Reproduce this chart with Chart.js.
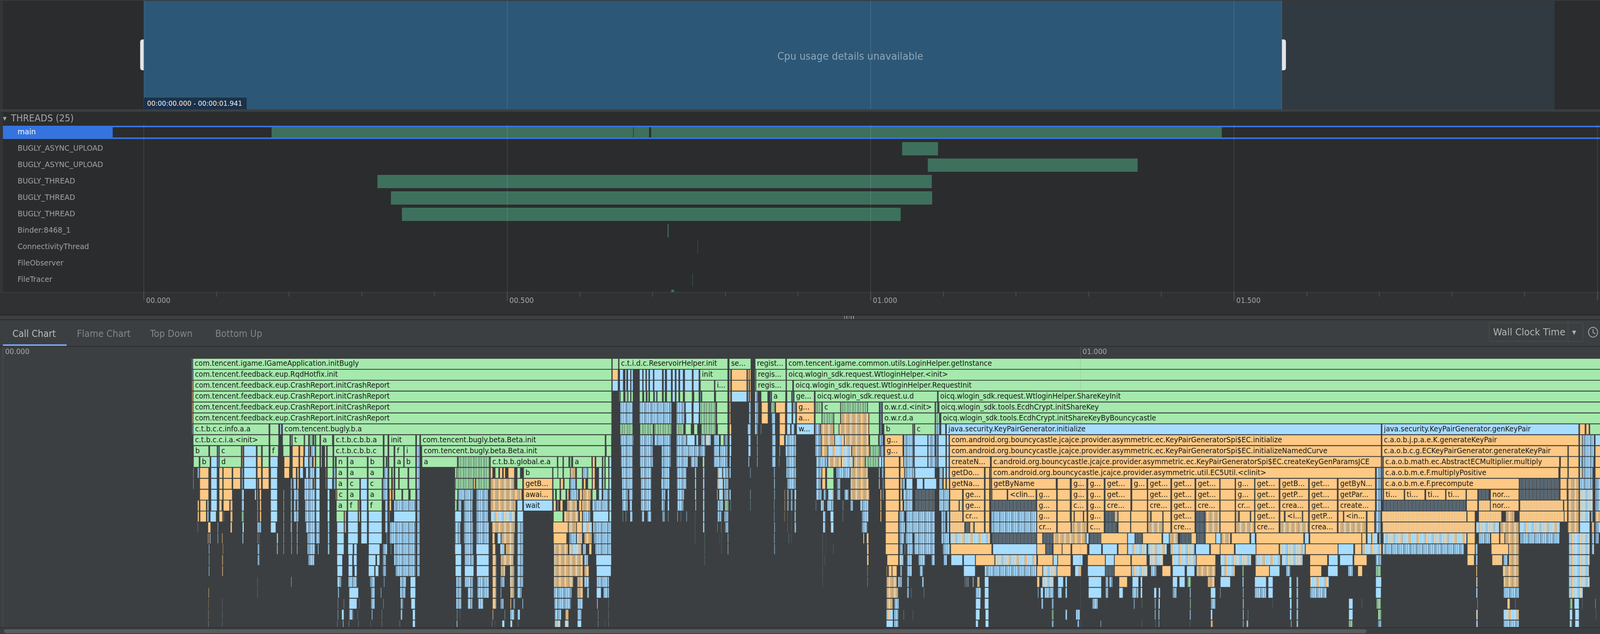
<!DOCTYPE html>
<html>
<head>
<meta charset="utf-8">
<script src="https://cdn.jsdelivr.net/npm/chart.js@4"></script>
<style>
html, body { margin: 0; padding: 0; background: #2b2c2e; overflow: hidden; }
#page { position: absolute; left: 0; top: 0; width: 4372px; height: 1624px; overflow: hidden; transform-origin: 0 0; font-family: "DejaVu Sans", sans-serif; }
.box, .txt, canvas { position: absolute; }
.txt { white-space: nowrap; line-height: 1; }
canvas { z-index: 2; }
.top { z-index: 3; }
</style>
</head>
<body>
<div id="page">
<!-- panels behind the charts -->
<div class="box" style="left:0;top:0;width:8px;height:806px;background:#333537"></div>
<div class="box" style="left:0;top:0;width:4372px;height:2px;background:#37393b"></div>
<div class="box" style="left:0;top:280px;width:4372px;height:6px;background:#3c3f41"></div>
<div class="box" style="left:8px;top:322px;width:4364px;height:34px;background:#3574de"></div>
<div class="box" style="left:308px;top:326px;width:4064px;height:26px;background:#2b2c2e"></div>
<div class="box" style="left:0;top:748px;width:4372px;height:58px;background:#303133"></div>
<div class="box" style="left:0;top:748px;width:4372px;height:2px;background:#3c3f41"></div>
<div class="box" style="left:0;top:806px;width:4372px;height:2px;background:#232425"></div>
<div class="box" style="left:0;top:808px;width:4372px;height:10px;background:#3c3f41"></div>
<div class="box" style="left:0;top:818px;width:4372px;height:2px;background:#28292a"></div>
<div class="box" style="left:0;top:820px;width:4372px;height:804px;background:#3c3f41"></div>
<div class="box" style="left:0;top:886px;width:4372px;height:2px;background:#2b2c2d"></div>
<div class="box" style="left:8px;top:882px;width:174px;height:4px;background:#7ba6f2"></div>

<div class="txt" style="left:8px;top:297px;font-size:13px;color:#a8a8a8">&#9660;</div>
<div class="txt" style="left:30px;top:291px;font-size:24px;color:#a8a8a8">THREADS (25)</div>
<div class="txt" style="left:34px;top:843px;font-size:24px;color:#bcbcbc">Call Chart</div>
<div class="txt" style="left:210px;top:843px;font-size:24px;color:#858585">Flame Chart</div>
<div class="txt" style="left:410px;top:843px;font-size:24px;color:#858585">Top Down</div>
<div class="txt" style="left:588px;top:843px;font-size:24px;color:#858585">Bottom Up</div>

<div class="box" style="left:4069px;top:826px;width:255px;height:47px;border:1px solid #555759;border-radius:4px"></div>
<div class="box" style="left:4284px;top:827px;width:1px;height:46px;background:#555759"></div>
<div class="txt" style="left:4080px;top:838px;font-size:25px;color:#b4b4b4">Wall Clock Time</div>
<div class="txt" style="left:4296px;top:844px;font-size:14px;color:#b4b4b4">&#9660;</div>
<svg class="box" style="left:4338px;top:836px" width="30" height="30" viewBox="0 0 30 30"><circle cx="15" cy="15" r="12.5" fill="none" stroke="#aeb0b2" stroke-width="2"/><path d="M15 7v9l6 3" fill="none" stroke="#aeb0b2" stroke-width="2"/></svg>
<div class="box" style="left:2307px;top:809px;width:28px;height:8px;background:repeating-linear-gradient(90deg,#9a9c9e 0 2px,transparent 2px 6px)"></div>

<canvas id="overviewChart" width="4372" height="278" style="left:0;top:2px;width:4372px;height:278px"></canvas>
<canvas id="threadChart" width="4372" height="488" style="left:0;top:318px;width:4372px;height:488px"></canvas>
<canvas id="callChart" width="4372" height="718" style="left:0;top:888px;width:4372px;height:718px"></canvas>

<!-- things above the charts -->
<div class="txt top" style="left:2124px;top:131px;font-size:26.5px;color:#8ea6b8">Cpu usage details unavailable</div>
<div class="box top" style="left:383px;top:101px;width:10px;height:79px;background:#e4e4e6;border-radius:6px 0 0 6px"></div>
<div class="box top" style="left:3503px;top:101px;width:11px;height:79px;background:#e4e4e6;border-radius:0 6px 6px 0"></div>
<div class="box top" style="left:393px;top:250px;width:281px;height:30px;background:#1b3149"></div>
<div class="txt top" style="left:402px;top:256px;font-size:18px;color:#ececec">00:00:00.000 - 00:00:01.941</div>
<div class="box top" style="left:0;top:1606px;width:4372px;height:18px;background:#3c3f41"></div>
<div class="box top" style="left:0;top:1607px;width:4372px;height:2px;background:#2e3031"></div>
<div class="box top" style="left:11px;top:1612px;width:3723px;height:10px;background:#5a5c5e;border-radius:5px"></div>
</div>

<script>
// the window can come up narrower than the picture, keep everything in it
var page = document.getElementById('page');
page.style.transform = 'scale(' + (window.innerWidth / 4372) + ',' + (window.innerHeight / 1624) + ')';

// capture range and selection, ms
var captureRange = [0, 1941];
var selectionRange = [0, 1566];

// threads list
var threadNames = ['main', 'BUGLY_ASYNC_UPLOAD', 'BUGLY_ASYNC_UPLOAD', 'BUGLY_THREAD', 'BUGLY_THREAD', 'BUGLY_THREAD', 'Binder:8468_1', 'ConnectivityThread', 'FileObserver', 'FileTracer'];
var mainStarts = [175.7, 673.9, 697.9];
var mainEnds = [673.2, 695.2, 1483.1];
var threadRows = [1, 2, 3, 4, 5, 6, 7, 9, 10];
var threadStarts = [1043.3, 1078.6, 321.3, 339.9, 355, 720.5, 761.8, 754.8, 725.6];
var threadEnds = [1092.7, 1367.3, 1084.1, 1084.6, 1041.3, 722, 762.3, 755.3, 729.6];

// axis ticks, ms
var minorTickValues = [0, 100, 200, 300, 400, 500, 600, 700, 800, 900, 1000, 1100, 1200, 1300, 1400, 1500, 1600, 1700, 1800, 1900, 2000];
var majorTickValues = [0, 500, 1000, 1500, 2000];
var timeTickLabels = ['00.000', '00.500', '01.000', '01.500', ''];
var callTickValues = [0, 1000];
var callTickLabels = ['00.000', '01.000'];

// call chart rows: [start ms, end ms, kind, label]
var row0 = [[175,175.8,'h'],[175.8,564.8,'g','com.tencent.igame.IGameApplication.initBugly'],[565.2,571.1,'g'],[571.5,672.5,'g','c.t.i.d.c.ReservoirHelper.init'],[673.6,694,'g','se...'],[697.7,726.2,'g','regist...'],[726.9,1482.3,'g','com.tencent.igame.common.utils.LoginHelper.getInstance']];
var row1 = [[175,176,'h'],[176,564.8,'g','com.tencent.feedback.eup.RqdHotfix.init'],[565.2,570.8,'o'],[572,575.6,'b'],[577,578.7,'b'],[579.5,582.3,'b'],[582.6,584.7,'b'],[590.3,593.4,'b'],[593.9,596.4,'b'],[597,599.2,'b'],[599.8,603.4,'b'],[603.9,611.7,'b'],[612.6,614.5,'b'],[615.6,620.1,'b'],[620.9,623.7,'b'],[624.4,627,'b'],[627.8,631.2,'b'],[632.3,639.5,'b'],[640.3,645.8,'b'],[646.5,672.5,'g','init'],[673.6,675.2,'g'],[675.8,690.2,'o'],[690.7,692.3,'o'],[692.3,694,'o'],[697.7,698.5,'g'],[698.5,726.5,'g','regis...'],[726.9,1482.3,'g','oicq.wlogin_sdk.request.WtloginHelper.<init>']];
var row2 = [[175,176.1,'o'],[176.1,564.8,'g','com.tencent.feedback.eup.CrashReport.initCrashReport'],[565.2,570.8,'b'],[572,575.6,'b'],[577,578.7,'b'],[579.5,582.3,'b'],[582.6,584.7,'b'],[590.3,593.4,'b'],[593.9,596.4,'b'],[597,599.2,'b'],[599.8,603.4,'b'],[603.9,611.7,'b'],[612.6,614.5,'b'],[615.6,620.1,'b'],[620.9,623.7,'b'],[624.4,627,'b'],[627.8,631.2,'b'],[632.3,639.5,'b'],[640.3,645.8,'b'],[646.9,660,'g'],[660.5,672.5,'g','i...'],[673.6,675.2,'o'],[675.8,690.2,'o'],[690.7,692.3,'r'],[692.6,694,'o'],[697.7,698.5,'g'],[698.5,726.5,'g','regis...'],[726.9,732.7,'g'],[733.4,1482.3,'g','oicq.wlogin_sdk.request.WtloginHelper.RequestInit']];
var row3 = [[175,176.1,'o'],[176.1,564.8,'g','com.tencent.feedback.eup.CrashReport.initCrashReport'],[571.5,572.6,'h'],[572.6,575.9,'g'],[577,579.5,'n'],[579.8,582.3,'g'],[582.6,584.7,'g'],[590.3,593.4,'g'],[594.4,596.7,'g'],[597.5,599.2,'g'],[599.8,603.6,'g'],[604.2,606.4,'h'],[606.8,611.7,'g'],[612.6,614.5,'g'],[615.6,620.1,'g'],[620.9,623.7,'b'],[624.4,627,'g'],[627.8,631.2,'g'],[632.3,639.5,'g'],[640.9,645.8,'g'],[646.8,647.9,'h'],[648.3,660,'g'],[661.1,672.5,'g'],[673.6,675.2,'o'],[675.8,690.2,'b'],[690.7,692.3,'h'],[692.6,694,'o'],[697.4,700.5,'h'],[703.2,709.6,'g'],[712,712.7,'b'],[713,726.2,'g','a'],[727.2,731.8,'g'],[732.7,733.4,'h'],[733.9,752.8,'g','ge...'],[753.5,867.1,'g','oicq.wlogin_sdk.request.u.d'],[867.7,1482.3,'g','oicq.wlogin_sdk.request.WtloginHelper.ShareKeyInit']];
var row4 = [[175,176.1,'o'],[176.1,564.8,'g','com.tencent.feedback.eup.CrashReport.initCrashReport'],[572.3,584.7,'h'],[590.3,620.5,'h'],[624.6,632.5,'h'],[633,639.2,'b'],[640.3,646.1,'b'],[646.4,661.4,'n'],[662.1,672.5,'g'],[673.8,675.2,'o'],[691.9,694.1,'h'],[697.4,700.9,'h'],[703.6,709.9,'o'],[712.4,716.1,'n'],[716.8,726,'o'],[727.2,732,'b'],[732.7,735.5,'h'],[736.2,752.8,'o','g...'],[753.5,759.8,'n'],[760.2,777.1,'g','c'],[777.1,802.1,'n'],[802.1,813.1,'g'],[813.8,815.2,'h'],[815.9,864.9,'g','o.w.r.d.<init>'],[865.2,867.7,'n'],[868.4,1482.3,'g','oicq.wlogin_sdk.tools.EcdhCrypt.initShareKey']];
var row5 = [[175,176.1,'o'],[176.1,564.8,'g','com.tencent.feedback.eup.CrashReport.initCrashReport'],[572.3,584.7,'h'],[590.3,620.5,'h'],[624.6,632.5,'h'],[633.4,639.2,'b'],[640.3,645.8,'b'],[646.4,661.4,'n'],[662.1,672.5,'g'],[673.8,675.2,'o'],[691.9,694.1,'h'],[697.4,700.9,'h'],[703.6,709.9,'o'],[713,716.8,'h'],[720.3,726,'o'],[727.2,732,'b'],[732.7,735.5,'b'],[736.2,752.8,'o','a...'],[753.5,759.8,'g'],[759.8,770.9,'n'],[770.9,777.1,'g'],[777.1,803.4,'r'],[803.4,813.1,'g'],[813.8,815.2,'h'],[815.9,864.9,'g','o.w.r.d.a'],[865.2,869.1,'n'],[870.2,1482.3,'g','oicq.wlogin_sdk.tools.EcdhCrypt.initShareKeyByBouncycastle']];
var row6 = [[175,176.1,'h'],[176.1,246.7,'g','c.t.b.c.c.info.a.a'],[247.4,255.7,'g'],[256.6,258.4,'h'],[259.1,564.8,'g','com.tencent.bugly.b.a'],[572.3,584.7,'n'],[590.6,603.4,'n'],[604.1,620.5,'n'],[624.6,631.6,'n'],[633,638.5,'g'],[640.9,644.5,'g'],[647.5,661.4,'n'],[662.8,672.5,'g'],[673.8,675.9,'o'],[690.5,694.1,'h'],[697.4,700.5,'h'],[703.2,703.8,'h'],[713.3,716.8,'h'],[720.3,726,'o'],[727.2,730.7,'b'],[731,734.8,'h'],[736.2,752.8,'b','w...'],[753.5,758.4,'h'],[758.4,770.9,'r'],[770.9,775.7,'g'],[775.7,803.4,'r'],[803.4,813.1,'g'],[813.8,815.2,'h'],[817.3,844.1,'g','b'],[844.5,845.5,'h'],[845.9,864.9,'g','c'],[865.2,869.3,'h'],[870.2,874.6,'b'],[875.3,1279,'b','java.security.KeyPairGenerator.initialize'],[1279.5,1462.4,'b','java.security.KeyPairGenerator.genKeyPair'],[1463,1468.2,'o'],[1468.9,1471.9,'o'],[1472.4,1482.3,'g']];
var row7 = [[176.1,246.7,'g','c.t.b.c.c.i.a.<init>'],[247.4,255.7,'g'],[259.1,266.1,'g'],[266.8,267.9,'g'],[268.2,279.2,'g','t'],[279.7,283.4,'g'],[283.8,287.6,'n'],[288.2,289.6,'g'],[290,293.9,'g'],[294.5,305.6,'g','a'],[306.7,352.7,'g','c.t.b.c.b.b.a'],[353.4,357.1,'g'],[357.8,382.8,'g','init'],[383.5,386.7,'g'],[387.3,558.7,'g','com.tencent.bugly.beta.Beta.init'],[559.3,564.6,'g'],[572.6,585.1,'h'],[590.6,603.4,'h'],[604.1,619.8,'h'],[624.6,634.3,'h'],[634.3,642,'b'],[642.7,645.4,'h'],[647.5,651.7,'h'],[651.7,656.9,'m'],[659.3,664.8,'h'],[665.5,669,'g'],[669.3,672.5,'h'],[673.8,675.9,'b'],[691.2,694.1,'h'],[699.5,700.5,'b'],[713.3,717.1,'h'],[720.3,725.1,'o'],[725.8,736.2,'h'],[753.5,759.1,'h'],[759.1,771.6,'r'],[771.6,780.6,'m'],[780.6,803.4,'r'],[804.1,812.4,'g'],[813.1,816.6,'h'],[818,835.1,'o','g...'],[835.8,844.8,'h'],[845.5,858,'b'],[858,864.9,'h'],[865.6,867.7,'h'],[867.7,874.9,'b'],[875.4,877.8,'b'],[878.2,1279,'o','com.android.org.bouncycastle.jcajce.provider.asymmetric.ec.KeyPairGeneratorSpi$EC.initialize'],[1279.5,1462.4,'o','c.a.o.b.j.p.a.e.K.generateKeyPair'],[1463,1465.6,'r'],[1465.6,1476.9,'h'],[1477.4,1482.3,'b']];
var row8 = [[176.4,190.8,'g','b'],[191.5,198.6,'g'],[199.3,200.2,'h'],[200.5,221,'g','c'],[221.7,222.7,'o'],[223.2,234.9,'b'],[235.6,239.7,'g'],[240.4,246.7,'g'],[247.6,255.4,'g','f'],[259.6,266.1,'g'],[268.2,274.4,'o'],[275.1,279,'o'],[279.7,283.4,'b'],[283.8,284.8,'o'],[285.5,289.6,'h'],[290,293.9,'g'],[294.5,295.9,'g'],[298.2,300,'g'],[300.7,306,'g'],[306.7,352.7,'g','c.t.b.c.b.b.c'],[353.4,357.1,'g'],[357.8,362.7,'g'],[363.4,371.7,'g','f'],[372.1,382.8,'g','i'],[383.5,386.7,'h'],[388.3,558.7,'g','com.tencent.bugly.beta.Beta.init'],[559.6,564.6,'g'],[573.1,584.7,'h'],[590.6,603.1,'h'],[610.8,619.8,'h'],[624.6,646.1,'h'],[646.1,651.7,'h'],[659.3,664.8,'h'],[664.8,672.5,'h'],[673.8,675.9,'b'],[691.2,694,'h'],[699.5,700.5,'b'],[713.3,717.1,'h'],[720.3,721.2,'o'],[725.8,736.2,'h'],[753.5,759.1,'h'],[759.1,765.3,'r'],[765.3,787.5,'m'],[787.5,804.1,'r'],[804.1,813.8,'n'],[813.8,817.3,'h'],[818,835.1,'o','g...'],[835.8,844.8,'h'],[845.5,858,'b'],[858,864.9,'h'],[865.6,867.7,'h'],[867.7,874.9,'b'],[875.4,877.8,'b'],[878.2,1279,'o','com.android.org.bouncycastle.jcajce.provider.asymmetric.ec.KeyPairGeneratorSpi$EC.initializeNamedCurve'],[1279.5,1452.1,'o','c.a.o.b.c.g.ECKeyPairGenerator.generateKeyPair'],[1452.6,1462.4,'o'],[1463,1465.6,'r'],[1465.6,1476.9,'h'],[1477.4,1482.3,'o']];
var row9 = [[176.4,181.9,'g'],[182.5,191.9,'g','b'],[192.6,198.6,'b'],[199.3,200.2,'h'],[200.5,221,'g','d'],[221.7,222.7,'o'],[223.2,234.9,'b'],[235.6,239.7,'o'],[240.4,246.7,'g'],[247.6,255,'b'],[260.5,266.1,'o'],[268.2,274.4,'o'],[275.1,278.5,'o'],[279.2,283.4,'b'],[283.8,286.9,'h'],[287.6,289.6,'o'],[290,293.9,'g'],[294.5,295.9,'g'],[298.2,300,'g'],[300.7,306,'g'],[306.7,308.3,'g'],[309,319.2,'g','n'],[319.7,337.9,'g','a'],[338.6,352.7,'g','b'],[353.4,355.5,'g'],[356.2,357.1,'b'],[357.8,362.7,'g'],[363.4,371.7,'g','a'],[372.1,382.8,'g','b'],[383.5,386.7,'h'],[388.5,421.5,'g','a'],[421.8,451.6,'n'],[452,514.2,'g','c.t.b.b.global.e.a'],[514.7,519.5,'g'],[519.9,525,'g'],[525.5,527.8,'n'],[528.5,546.3,'g','a'],[546.8,549.3,'o'],[550,556,'g'],[556.5,558.3,'g'],[558.7,561.8,'g'],[562.2,564.6,'b'],[573.1,584.7,'h'],[590.6,603.4,'h'],[610.8,619.8,'h'],[624.6,635.7,'h'],[638.1,644.7,'h'],[648.9,651,'g'],[659.3,672.5,'h'],[673.8,675.5,'b'],[691.2,692.6,'h'],[699.5,700.5,'b'],[713.3,717.1,'h'],[720,720.6,'g'],[726.5,735.9,'h'],[754.2,765.3,'h'],[765.3,777.8,'r'],[777.8,788.9,'m'],[788.9,800,'r'],[800,812.4,'n'],[812.4,815.2,'b'],[815.2,817.3,'b'],[817.7,831.6,'o'],[832.3,835.8,'o'],[835.8,844.8,'h'],[845.5,858,'b'],[858,865.6,'h'],[865.6,867.7,'h'],[867.7,874.9,'b'],[875.4,877.8,'b'],[878.2,916.2,'o','createN...'],[917,1279,'o','c.android.org.bouncycastle.jcajce.provider.asymmetric.ec.KeyPairGeneratorSpi$EC.createKeyGenParamsJCE'],[1279.5,1280.4,'o'],[1280.8,1444.5,'o','c.a.o.b.math.ec.AbstractECMultiplier.multiply'],[1445.2,1452.1,'o'],[1452.6,1462.4,'o'],[1463,1465.6,'h'],[1465.6,1476.2,'h'],[1477.4,1482.3,'o']];
var row10 = [[176.4,177,'h'],[180,182,'h'],[182.2,190.8,'o'],[192.6,198.6,'b'],[200.2,203.7,'o'],[204.1,212.4,'o'],[213,220.3,'o'],[221,222.7,'h'],[223.2,234.9,'b'],[235.6,239.7,'o'],[240.4,246.7,'o'],[248,254.6,'b'],[260.5,265.7,'o'],[268.2,272,'o'],[272.6,274.4,'o'],[275.1,278.5,'b'],[280.6,283.4,'b'],[284.1,289,'h'],[290,293.9,'b'],[299.3,300,'o'],[300.7,306,'g'],[306.3,308.7,'h'],[309,319.2,'g','a'],[319.7,337.9,'g','a'],[338.6,352.7,'g','a'],[353.4,357.3,'h'],[357.8,360.4,'g'],[361,362.7,'g'],[363.4,367,'g'],[367.5,375.6,'g'],[376.3,382.8,'g'],[383.5,386.7,'h'],[419,421.1,'g'],[421.1,451.6,'n'],[452,454.4,'o'],[456.4,459.9,'g'],[460.6,463.4,'o'],[464.1,466.1,'o'],[468.5,474.5,'o'],[476.8,480,'g'],[482.8,509.8,'g','b'],[510.2,514.7,'g'],[514.7,519.5,'g'],[519.9,526.4,'g'],[526.4,531.3,'r'],[532,537.5,'g'],[537.5,542.4,'h'],[542.4,546.5,'g'],[546.8,549.3,'o'],[552.5,555.8,'b'],[556.5,558.3,'g'],[558.7,562,'g'],[562.2,564.6,'b'],[573.6,584.7,'h'],[591.2,602,'h'],[610.8,618.7,'h'],[625,634.3,'h'],[641.3,643.4,'h'],[649.2,651,'b'],[662.8,667.6,'m'],[667.6,673.2,'h'],[673.6,675.5,'h'],[693.2,693.9,'h'],[715.1,716.3,'h'],[726.5,736.2,'h'],[754.2,759.8,'h'],[759.8,763.2,'o'],[764.2,770.9,'g'],[772.9,786,'h'],[786.1,802.7,'r'],[812.4,813.8,'g'],[815.2,817.3,'h'],[818,831.6,'o'],[832.3,836.5,'o'],[836.5,846,'h'],[846,864.9,'b'],[868.7,872,'h'],[872.5,874.9,'b'],[875.4,877.8,'b'],[878.2,910.6,'o','getDo...'],[911.3,915.5,'o'],[916.2,917,'o'],[917,1273.6,'o','com.android.org.bouncycastle.jcajce.provider.asymmetric.util.EC5Util.<clinit>'],[1274.3,1279,'h'],[1279.5,1280.4,'b'],[1280.8,1443.8,'o','c.a.o.b.m.e.F.multiplyPositive'],[1444.9,1452.1,'o'],[1452.6,1462.4,'o'],[1463,1465.6,'r'],[1465.6,1475.5,'h'],[1477.4,1482.3,'o']];
var row11 = [[176.4,177,'h'],[182.2,190.8,'o'],[192.6,198.6,'b'],[200.2,203.7,'o'],[204.1,212.4,'o'],[213,220.3,'o'],[221,222.7,'h'],[223.2,234.9,'b'],[235.6,236.6,'o'],[237.1,239.7,'o'],[240.4,246.7,'o'],[248,254.6,'b'],[266.5,268.2,'h'],[268.8,272,'h'],[272.6,274.4,'o'],[279.2,287.6,'h'],[288.2,289.3,'o'],[290,293.9,'b'],[299.3,300,'o'],[300.7,305.6,'b'],[306.3,308.7,'h'],[309,319.2,'g','a'],[319.7,330.9,'g','c'],[331.5,337.9,'b'],[338.6,351.6,'g','c'],[352,357.1,'h'],[357.8,360.4,'g'],[361.3,362.7,'o'],[363.4,367,'g'],[367.5,375.6,'g'],[376.3,382.8,'g'],[383.5,386.7,'h'],[419,436.3,'n'],[436.3,438.1,'o'],[438.1,451.6,'n'],[452,474.5,'r'],[476.8,482.1,'g'],[482.8,509.8,'o','getB...'],[510.2,516.7,'g'],[517.1,519.9,'o'],[520.5,525.7,'g'],[525.7,531.3,'h'],[532,537.5,'g'],[538.5,540.7,'o'],[542.4,546.5,'g'],[546.8,549.3,'o'],[552.5,555.8,'b'],[556.5,558.3,'g'],[558.7,562,'g'],[562.2,564.6,'b'],[574,584.7,'h'],[591.6,601.7,'h'],[610.4,618.7,'h'],[625,634.3,'h'],[641.3,643.4,'h'],[649.2,651,'b'],[662.5,668.3,'m'],[668.6,673.2,'h'],[715.1,716.5,'h'],[727.2,735.9,'h'],[754.2,759.1,'h'],[759.8,763.2,'o'],[764.2,770.9,'g'],[773.6,777.1,'h'],[786.1,803.4,'r'],[812.4,813.8,'g'],[815.9,817.3,'h'],[818,831.6,'o'],[832.3,834.4,'o'],[834.4,837,'h'],[837.9,844.1,'b'],[847.6,853.8,'b'],[854.5,866.3,'b'],[868.6,871.8,'h'],[872.5,874.9,'o'],[875.4,878.1,'o'],[878.5,910.6,'o','getNa...'],[911.3,915.5,'o'],[916.2,917,'o'],[917.3,977.2,'o','getByName'],[978.3,990.3,'o'],[991.3,1005.6,'o','g...'],[1006.6,1021.8,'o','g...'],[1022.6,1046.5,'o','get...'],[1047.4,1061.5,'o','g...'],[1062.2,1083.7,'o','get...'],[1084.4,1106.1,'o','get...'],[1106.8,1129,'o','get...'],[1129.4,1143.3,'o'],[1143.7,1161.3,'o','g...'],[1161.7,1184.2,'o','get...'],[1184.9,1211.5,'o','getB...'],[1212.2,1238.2,'o','get...'],[1238.9,1273.6,'o','getByN...'],[1274.3,1279,'h'],[1279.5,1280.4,'o'],[1280.8,1407,'o','c.a.o.b.m.e.F.precompute'],[1407,1444.5,'d'],[1444.9,1451.5,'o'],[1451.9,1462.8,'r'],[1463,1475.5,'h'],[1477.4,1482.3,'h']];
var row12 = [[182.2,190.8,'o'],[192.6,198.6,'b'],[200.2,203.7,'o'],[204.1,212.7,'o'],[221,223.5,'h'],[233.2,234.9,'b'],[235.6,236.6,'o'],[237.7,239.7,'o'],[248,254.6,'b'],[259.8,261.2,'h'],[266.5,268.2,'h'],[269.5,274.4,'h'],[279.2,289.6,'h'],[290,293.9,'b'],[300.7,303.1,'b'],[308.6,309.5,'o'],[309.5,319.2,'g','c'],[319.7,330.9,'g','a'],[331.5,337.9,'b'],[338.6,351.6,'g','a'],[352,357.1,'h'],[358.2,360.3,'o'],[361,362.7,'o'],[363.4,370,'g'],[370.7,376.3,'g'],[377.6,382.8,'g'],[383.9,386.7,'h'],[419,421.8,'g'],[421.8,436.3,'h'],[438.7,450.2,'h'],[452,481.4,'r'],[482.8,509.8,'o','awai...'],[510.5,512.6,'g'],[513.3,516.7,'g'],[517.4,522.3,'g'],[523,525,'o'],[525.7,534.1,'h'],[534.8,537.5,'o'],[537.5,545.8,'r'],[546.5,550.7,'g'],[552.5,555.8,'b'],[556.5,562,'h'],[562.2,564.6,'b'],[574,579.8,'h'],[580.5,584.7,'h'],[591.6,602,'h'],[610.8,614.9,'h'],[616.3,618.4,'h'],[625.3,632.3,'h'],[641.3,643.4,'h'],[649.2,651,'b'],[662.1,663.4,'h'],[664.1,668.3,'m'],[669,673.2,'h'],[673.6,675.5,'h'],[693.2,693.9,'h'],[715.4,716.5,'h'],[725.1,725.8,'o'],[727.2,729.3,'h'],[730.7,732.7,'h'],[734.1,736.2,'b'],[754.2,759.8,'h'],[761.2,763.9,'h'],[765.3,770.9,'m'],[773.6,777.1,'h'],[780.6,784.7,'h'],[786.1,804.1,'r'],[813.8,815.2,'o'],[815.9,817.3,'h'],[818.7,831.6,'o'],[832.3,834.4,'o'],[835.1,844.1,'h'],[846.2,864.9,'d'],[868.4,878,'h'],[878.5,890.3,'o'],[891,910.6,'o','ge...'],[911.3,915.5,'o'],[916.2,917.6,'r'],[917.6,931.7,'o'],[932.3,958.5,'o','<clin...'],[959.2,977.6,'o','g...'],[978.3,990.3,'o'],[991.3,1005.6,'o','g...'],[1006.6,1021.8,'o','g...'],[1022.6,1046.5,'o','get...'],[1047.4,1061.8,'o'],[1062.2,1083.7,'o','get...'],[1084.4,1106.1,'o','get...'],[1106.8,1129,'o','get...'],[1129.4,1143.3,'o'],[1143.7,1161.3,'o','g...'],[1161.7,1184.2,'o','get...'],[1184.9,1211.5,'o','getP...'],[1212.2,1238.2,'o','get...'],[1238.9,1273.6,'o','getPar...'],[1274.3,1279,'h'],[1279.5,1280.7,'b'],[1281.1,1300.2,'o','ti...'],[1300.7,1319.5,'o','ti...'],[1320.2,1338.6,'o','ti...'],[1339,1357.6,'o','ti...'],[1358,1368.5,'o'],[1368.9,1379.5,'d'],[1380.2,1406.8,'o','nor...'],[1407,1444.5,'d'],[1444.9,1451.5,'o'],[1452.2,1462.8,'r'],[1463,1475.5,'m'],[1477.4,1482.3,'h']];
var row13 = [[180.1,181.9,'o'],[182.5,188.5,'o'],[189.1,190.8,'h'],[192.6,198.6,'b'],[200.2,203,'o'],[204.1,210.2,'o'],[210.6,213,'r'],[221,223.5,'h'],[235.6,236.6,'o'],[237.9,239.7,'o'],[248,254.6,'b'],[259.8,261.2,'h'],[266.5,268.2,'h'],[269.5,271.6,'h'],[272.3,274.4,'h'],[279.9,289.6,'h'],[290,293.9,'b'],[300.7,303.1,'b'],[309,319.2,'g','a'],[319.7,329.4,'g','f'],[329.8,330.9,'o'],[331.9,337.9,'b'],[338.6,351.6,'g','f'],[354.1,357.1,'h'],[358.2,360.3,'o'],[362.4,382.8,'h'],[383.9,386.7,'h'],[419,421.1,'g'],[421.8,425.3,'h'],[427.3,435.9,'h'],[438.7,450.2,'h'],[452,475.8,'r'],[476.8,482.1,'b'],[482.8,509.8,'b','wait'],[510.5,513.3,'r'],[514,515.3,'r'],[516.7,519.5,'o'],[523,532.7,'r'],[534.1,536.8,'o'],[536.8,545.1,'r'],[546.5,561.8,'h'],[562.2,564.6,'b'],[574.3,579.8,'h'],[581.2,584,'h'],[591.6,601.3,'h'],[610.8,614.2,'h'],[616.3,618.4,'h'],[625.3,631.6,'h'],[642,643.4,'h'],[649.2,651,'b'],[662.8,668.3,'h'],[669.4,673.2,'n'],[675,675.5,'h'],[693.5,694,'h'],[715.4,716,'h'],[725.1,725.8,'o'],[727.2,729.3,'h'],[730.7,732.7,'h'],[734.1,736,'h'],[754.2,754.9,'h'],[758.4,761.9,'h'],[764.6,770.9,'h'],[779.2,780,'h'],[786.1,788.9,'h'],[795.1,803.4,'h'],[813.8,815.2,'o'],[818.7,831.6,'o'],[832.3,835.1,'o'],[835.8,844.1,'h'],[846,864.9,'d'],[868.4,877.8,'h'],[878.5,887.1,'o'],[887.4,890.5,'r'],[891,910.6,'o','ge...'],[911.3,915.5,'o'],[916,959,'d'],[959.2,977.6,'o','g...'],[978.3,990.3,'o'],[991.3,1005.6,'o','c...'],[1006.6,1021.8,'o','g...'],[1022.6,1046.5,'o','cre...'],[1047.4,1061.8,'o'],[1062.2,1083.7,'o','cre...'],[1084.4,1106.1,'o','get...'],[1106.8,1129,'o','cre...'],[1129.4,1143.3,'o'],[1143.7,1161.3,'o','cr...'],[1161.7,1184.2,'o','get...'],[1184.9,1211.5,'o','crea...'],[1212.2,1238.2,'o','get...'],[1238.9,1273.6,'o','create...'],[1274.3,1279,'h'],[1280.7,1357.6,'d'],[1358,1368.5,'o'],[1369.2,1380.2,'l'],[1380.2,1406.8,'o','nor...'],[1407.5,1448,'l'],[1448.4,1451.8,'o'],[1452.2,1462.8,'r'],[1463,1475.5,'m'],[1477.4,1482.3,'h']];
var row14 = [[180.1,181.9,'o'],[182.5,188.5,'o'],[189.1,190.8,'h'],[191.9,197.7,'b'],[200.2,203.7,'o'],[204.4,205.1,'h'],[210.6,213,'r'],[221,223.5,'n'],[235.6,236.6,'h'],[237.9,239.7,'o'],[248,254.6,'b'],[259.8,261.2,'h'],[266.5,268.2,'h'],[269.5,274.4,'h'],[279.9,289.6,'h'],[290,293.9,'b'],[300.7,303.1,'b'],[309,316.4,'g'],[316.7,318.3,'o'],[319.7,329.4,'b'],[329.8,331.2,'o'],[331.9,337.9,'b'],[338.9,351.6,'b'],[354.1,357.1,'h'],[358.2,358.9,'o'],[362.4,382.8,'b'],[383.9,386.7,'h'],[419,425.3,'b'],[427.3,435.9,'h'],[438.7,450.2,'h'],[452.3,475.2,'m'],[476.8,482.8,'b'],[510.5,519.5,'g'],[520.2,534.1,'r'],[534.8,537.5,'o'],[537.5,545.1,'h'],[547.2,561.8,'b'],[562.2,564.6,'b'],[574.9,575.6,'h'],[577.7,578.4,'h'],[581.5,584.2,'h'],[592.3,595,'h'],[597.8,601.7,'h'],[611.5,614.2,'h'],[617,617.7,'b'],[625.6,626.4,'b'],[628.8,629.3,'h'],[633.9,634.8,'h'],[642,642.5,'h'],[649.2,651,'b'],[662.8,666.9,'h'],[669,673.2,'h'],[715.4,716.1,'h'],[725.1,725.6,'o'],[727.9,728.4,'h'],[731.4,731.9,'h'],[734.1,735.9,'h'],[760.5,763.7,'h'],[767.4,770.9,'b'],[779.2,779.7,'h'],[796.5,803.4,'h'],[813.8,815.2,'o'],[818.7,831,'o'],[831.4,836.5,'h'],[837.9,864.9,'h'],[870.5,874.9,'h'],[875.7,878.1,'h'],[878.5,890.5,'l'],[891,910.6,'o','cr...'],[911.3,915.5,'o'],[916.9,959.2,'h'],[959.2,977.6,'o','g...'],[978.3,990.3,'o'],[991.3,993.8,'o'],[994.1,1002.4,'o'],[1002.8,1005.9,'o'],[1006.6,1021.8,'o','g...'],[1022.6,1031.2,'d'],[1031.2,1034.7,'r'],[1034.7,1046.3,'o'],[1046.5,1061.8,'o'],[1062.2,1065,'r'],[1065.4,1076.1,'o'],[1076.5,1083.7,'o'],[1084.4,1106.1,'o','get...'],[1106.8,1115.6,'d'],[1115.6,1129,'r'],[1129.4,1143.3,'o'],[1143.7,1146.8,'r'],[1147.2,1157.4,'o'],[1157.8,1161.3,'o'],[1161.7,1184.2,'o','get...'],[1184.9,1189,'o'],[1189.7,1205.7,'o','<i...'],[1206.1,1211.5,'o'],[1212.2,1238.2,'o','getP...'],[1238.9,1243.8,'o'],[1244.2,1265.1,'o','<in...'],[1265.8,1272.9,'o'],[1273.6,1278.6,'h'],[1279.3,1358.3,'l'],[1358.6,1366.1,'o'],[1369.2,1390.8,'l'],[1394.3,1402.8,'r'],[1407,1448.7,'l'],[1448.7,1451.8,'o'],[1452.2,1462.8,'r'],[1463,1472.7,'m'],[1473.4,1475.5,'h'],[1477.4,1482.3,'r']];
var row15 = [[180.6,181.1,'h'],[189.8,192.6,'o'],[198.8,199.7,'h'],[210.6,212.7,'r'],[221.7,223.5,'h'],[235.6,239.7,'h'],[248,253.2,'b'],[259.8,261.2,'h'],[266.5,268.2,'h'],[272.3,273.4,'b'],[280.6,289.6,'h'],[290,293.9,'h'],[300.7,303.1,'h'],[309.5,316.4,'b'],[316.7,318.3,'o'],[319.7,329.4,'b'],[331.9,337.9,'b'],[338.9,351.6,'b'],[354.1,357.1,'h'],[358.2,382.8,'h'],[383.9,386.7,'h'],[419,424.6,'h'],[427.3,436.3,'h'],[438.7,450.9,'h'],[453.4,475.2,'r'],[476.8,482.8,'h'],[510.2,524.4,'o'],[524.4,532,'r'],[532,537.5,'o'],[537.5,546.5,'m'],[547.2,564.6,'h'],[642,642.5,'h'],[649.2,651,'b'],[662.8,663.4,'h'],[666.2,666.9,'h'],[669.7,673.2,'h'],[715.4,716.5,'b'],[727.9,728.4,'h'],[731.4,731.9,'h'],[734.1,736.2,'h'],[760.5,763.2,'h'],[767.8,770.9,'b'],[796.5,802.1,'h'],[818.7,831,'o'],[831.4,837.2,'h'],[837.9,864.9,'h'],[870.5,874.9,'h'],[875.7,878.1,'h'],[878.5,892.4,'l'],[892.6,896.8,'d'],[896.8,900.9,'r'],[901.2,910.6,'o'],[911.3,915.5,'o'],[916.9,959.2,'h'],[959.2,977.6,'o','cr...'],[978.3,991,'o'],[991.3,1005.9,'r'],[1006.6,1021.8,'o','c...'],[1022.6,1034,'d'],[1034.7,1046.3,'o'],[1046.5,1061.8,'o'],[1062.2,1076.1,'r'],[1076.5,1083.7,'o'],[1084.4,1106.1,'o','cre...'],[1106.8,1115.6,'d'],[1115.6,1129,'r'],[1129.4,1143.3,'o'],[1143.7,1161.3,'r'],[1161.7,1184.2,'o','cre...'],[1184.9,1211.5,'r'],[1212.2,1238.2,'o','crea...'],[1238.9,1265.1,'r'],[1265.8,1272.9,'o'],[1273.6,1278.6,'h'],[1280,1366.1,'l'],[1366.8,1388.7,'m'],[1389.1,1407,'r'],[1407,1444.9,'m'],[1452,1462.8,'r'],[1463,1472.7,'b'],[1474.1,1476.9,'r'],[1477.6,1482.3,'h']];
var row16 = [[189.8,190.8,'o'],[191.2,192.6,'h'],[198.8,199.7,'h'],[203,203.8,'o'],[221.7,223.1,'b'],[235.9,236.6,'o'],[237,238.3,'h'],[253.6,255.3,'b'],[259.8,260.8,'h'],[267,268.2,'h'],[272.3,273.4,'b'],[282,289.6,'h'],[290,293.9,'h'],[300.7,303.1,'h'],[309.5,316.4,'b'],[319.7,329.4,'b'],[331.9,337.9,'b'],[338.9,351.6,'b'],[355.5,356.8,'h'],[358.2,382.8,'h'],[383.9,386.7,'h'],[419,424.6,'h'],[427.3,436.3,'h'],[438.7,450.9,'h'],[453.7,456.4,'o'],[458.5,462,'m'],[462,474.5,'r'],[476.8,482.8,'h'],[510.5,523,'o'],[525,532,'h'],[532,537.5,'m'],[538.9,546.5,'r'],[547.9,564.6,'h'],[642,642.5,'h'],[651,651.4,'n'],[664.8,665.2,'h'],[666.6,667,'h'],[672.2,673.2,'h'],[715.4,716.3,'b'],[729,729.5,'h'],[731.4,731.9,'h'],[760.5,761,'h'],[763.2,763.7,'h'],[797.9,799.3,'b'],[801.1,803.4,'o'],[818.7,831,'o'],[831.6,836.5,'h'],[837.2,844.1,'h'],[845.5,864.9,'h'],[870.5,878.1,'h'],[878.8,916.2,'m'],[917.6,959.2,'d'],[959.2,964.7,'o'],[964.7,974.4,'d'],[974.4,1004.9,'r'],[1004.9,1007.7,'b'],[1007.7,1018.7,'d'],[1018.7,1043.4,'o'],[1043.5,1050.4,'b'],[1050.4,1057.4,'d'],[1057.4,1075.4,'o'],[1076.1,1082.3,'b'],[1082.3,1090.6,'r'],[1092,1102.4,'d'],[1102.4,1107.3,'o'],[1107.3,1115.6,'d'],[1115.6,1125.3,'o'],[1125.3,1130.1,'b'],[1130.1,1139.1,'r'],[1139.8,1157.1,'o'],[1157.8,1162,'b'],[1162.7,1207.1,'o'],[1207.7,1211.9,'b'],[1212.6,1260.8,'o'],[1260.9,1265.1,'o'],[1265.8,1270.1,'b'],[1270.1,1275.7,'m'],[1276.4,1278.6,'h'],[1280.7,1358.3,'m'],[1358.6,1366.1,'o'],[1368.9,1380.2,'h'],[1380.6,1388.7,'o'],[1389.1,1393.6,'o'],[1393.6,1407,'r'],[1407.7,1444.9,'h'],[1452.9,1472.7,'m'],[1474.1,1476.9,'h'],[1477.6,1481.2,'h']];
var row17 = [[190.3,191.9,'h'],[203.7,204.4,'o'],[235.9,238.3,'h'],[253.6,255.3,'h'],[259.8,260.8,'h'],[267,268.2,'h'],[272.3,273.4,'h'],[282,289.6,'h'],[291.7,293.1,'h'],[300.7,303.1,'h'],[309.5,316.4,'b'],[319.7,324.7,'b'],[325.3,328.4,'b'],[338.9,349.6,'b'],[352,356.8,'h'],[359.6,360.3,'g'],[362.4,382.8,'h'],[383.9,386.7,'h'],[419,425.3,'b'],[427.6,436.3,'h'],[438.7,450.9,'b'],[453.7,457.1,'r'],[460.9,465.5,'m'],[466.1,474.5,'r'],[476.8,482.8,'h'],[510.8,524.4,'r'],[525,536.8,'m'],[537.5,541,'h'],[543.5,546.3,'o'],[549,564.6,'h'],[651,651.4,'n'],[666.6,667,'h'],[672.2,673.2,'h'],[715.4,716.5,'h'],[760.5,761,'h'],[763.2,763.7,'h'],[770.4,770.9,'h'],[801.4,803.4,'r'],[818.7,831,'o'],[831.6,835.1,'h'],[836.1,837.9,'d'],[838.6,844.8,'h'],[845.5,864.9,'h'],[871.8,878.8,'h'],[879.2,917.6,'o'],[918.3,959.2,'b'],[959.2,967.5,'o'],[967.5,973.7,'d'],[974.4,982.7,'o'],[982.7,991,'o'],[991.7,1006.3,'o'],[1007.7,1019.4,'b'],[1020.1,1034,'b'],[1034.7,1043.4,'o'],[1043.5,1061.5,'m'],[1062.2,1080.2,'m'],[1083,1105.9,'m'],[1106.6,1119.7,'b'],[1120.4,1129.4,'o'],[1129.4,1142.6,'o'],[1143.3,1162.7,'b'],[1162.7,1184.2,'o'],[1184.6,1208.4,'m'],[1208.4,1238.9,'o'],[1238.9,1253.5,'b'],[1254.2,1260.8,'o'],[1260.9,1279.3,'m'],[1280,1356,'h'],[1358.6,1366.1,'o'],[1366.1,1368.5,'h'],[1380.9,1397.2,'o'],[1397.2,1407,'r'],[1452.9,1472.7,'m'],[1474.1,1476.9,'h']];
var row18 = [[190.5,191.9,'h'],[203,204.1,'o'],[235.9,238.3,'h'],[282.7,288.9,'h'],[309.5,315,'b'],[320.1,324.3,'b'],[325,328.4,'b'],[338.8,345.8,'b'],[346.5,349.6,'b'],[352,355.5,'h'],[362.4,382.8,'h'],[383.9,386.7,'h'],[419.4,425.3,'b'],[428,436.8,'h'],[439.1,450.9,'b'],[453.7,457.8,'r'],[461.3,473.8,'r'],[476.8,482.8,'h'],[510.8,538.2,'r'],[538.9,543,'h'],[550,564.6,'b'],[651,651.4,'h'],[760.5,761,'h'],[762.5,763,'h'],[801.4,803.4,'r'],[820.1,831,'o'],[831.6,835.8,'m'],[838.6,843.4,'h'],[849,855.9,'h'],[861.4,864.9,'h'],[872.5,876,'h'],[879.5,890.5,'b'],[891.2,902.3,'b'],[902.3,920.3,'o'],[920.3,959.2,'m'],[959.9,974.4,'o'],[974.4,978.6,'b'],[978.6,991,'o'],[992.4,1002.1,'b'],[1006.3,1022.9,'o'],[1022.9,1031.2,'b'],[1031.2,1046.5,'o'],[1047,1061.5,'o'],[1063.6,1076.8,'m'],[1084.4,1107.3,'m'],[1107.3,1125.3,'o'],[1129.4,1158.5,'m'],[1162,1185.6,'m'],[1186.3,1206.4,'m'],[1212.6,1229.2,'o'],[1229.9,1238.9,'b'],[1240.3,1252.8,'b'],[1253.5,1265.8,'o'],[1273.6,1279.3,'h'],[1358.6,1365.4,'o'],[1366.5,1368.5,'h'],[1381.6,1391.5,'l'],[1391.9,1396.5,'h'],[1397.2,1407,'r'],[1452.9,1472.7,'m']];
var row19 = [[190.3,191.9,'h'],[203,204.1,'o'],[309.7,315,'b'],[320.1,324.3,'b'],[325.7,328.4,'b'],[338.8,344.7,'b'],[345.1,348.5,'b'],[352,355.5,'h'],[363.8,382.8,'h'],[383.9,386.7,'h'],[419.4,425.3,'b'],[428,436.8,'b'],[439.1,450.9,'b'],[453.7,457.8,'r'],[461.3,466.1,'r'],[470,474.5,'r'],[476.8,482.8,'h'],[510.8,538.2,'r'],[538.9,543.8,'r'],[550.4,564.3,'b'],[760.5,761,'h'],[802.1,802.7,'r'],[819.4,820.8,'r'],[821.5,824.9,'o'],[824.9,829.6,'o'],[832.3,834.4,'h'],[838.6,843.4,'h'],[850.4,853.8,'h'],[891.2,902.3,'b'],[910.6,959.2,'h'],[959.2,964.7,'o'],[964.7,977.9,'m'],[977.9,991,'o'],[994.5,1000.7,'m'],[1006.3,1022.9,'b'],[1022.9,1031.2,'d'],[1031.2,1047,'o'],[1047,1062.2,'m'],[1065,1070.5,'h'],[1075.4,1083.7,'o'],[1085.1,1096.9,'b'],[1098.2,1105.9,'b'],[1107.3,1125.3,'r'],[1130.1,1143.3,'m'],[1149.5,1151.6,'n'],[1162,1175.2,'o'],[1175.2,1184.9,'b'],[1190.4,1194.6,'h'],[1212.6,1223.7,'o'],[1229.2,1238.9,'b'],[1247.9,1252.8,'h'],[1257,1261.6,'o'],[1273.6,1279,'n'],[1366.8,1368.2,'o'],[1391.5,1407,'r'],[1452.9,1472,'m']];
var row20 = [[235.9,236.3,'h'],[267,267.9,'h'],[309.7,313.9,'h'],[320.1,328.4,'h'],[340.2,345.1,'h'],[352.7,354.1,'h'],[368,374.2,'h'],[377.6,382.8,'b'],[420.1,425.3,'h'],[428,436.3,'h'],[439.8,450.9,'h'],[453.7,457.8,'r'],[461.3,465.5,'h'],[470,474.5,'r'],[476.8,482.8,'h'],[510.8,529.2,'r'],[532.4,538.2,'r'],[538.9,543.8,'h'],[550.4,562.5,'h'],[760.5,761,'h'],[802.1,802.6,'r'],[819.4,829.6,'r'],[830.3,834.4,'h'],[838.6,840.7,'h'],[852.4,854.5,'h'],[891.9,896.8,'d'],[899.6,900.9,'b'],[903.7,906.5,'r'],[910.6,914.8,'b'],[959.2,961.9,'o'],[964,975.1,'m'],[978.6,984.1,'b'],[985.5,987.6,'b'],[1007,1019.4,'b'],[1022.9,1025.7,'h'],[1026.4,1029.8,'h'],[1035.4,1043.4,'o'],[1047.7,1053.9,'b'],[1055.3,1057.4,'b'],[1085.1,1089.9,'b'],[1091.3,1096.9,'b'],[1098.9,1102.4,'n'],[1117.7,1124.6,'r'],[1129.4,1139.1,'b'],[1149.5,1151.6,'h'],[1161.3,1172.4,'b'],[1173.8,1178.6,'b'],[1193.2,1196,'h'],[1200.1,1202.2,'h'],[1212.6,1230.6,'m'],[1273.6,1279.3,'b'],[1366.8,1368.5,'r'],[1392.2,1407,'r'],[1452.9,1472.7,'m']];
var row21 = [[190.5,191.2,'o'],[235.9,236.3,'h'],[310.4,311.8,'h'],[320.8,329.8,'b'],[340.9,345.1,'h'],[349.9,351.3,'h'],[368,373.5,'h'],[377.6,382.8,'b'],[420.1,425.3,'h'],[430.8,436.3,'h'],[439.8,450.9,'h'],[453.7,457.8,'r'],[461.3,462.7,'h'],[470.3,474.5,'r'],[476.8,481.4,'h'],[510.8,527.8,'h'],[532.4,538.2,'r'],[541.7,543.8,'h'],[550.4,555.1,'b'],[556.9,562.5,'h'],[819.4,831,'r'],[838.6,840.7,'h'],[842.7,843.2,'h'],[854.5,855,'h'],[902.3,907.9,'h'],[910.6,914.8,'b'],[959.9,961.2,'h'],[962.6,965.4,'b'],[966.1,975.1,'h'],[978.6,982.7,'h'],[985.5,987.6,'h'],[1007,1019.4,'b'],[1022.9,1025.7,'h'],[1035.4,1039.5,'b'],[1047.7,1053.9,'h'],[1055.3,1057.4,'b'],[1067.8,1070.5,'b'],[1071.9,1074,'h'],[1085.1,1089.2,'h'],[1101,1102.4,'b'],[1120.4,1125.3,'b'],[1129.4,1130.1,'h'],[1150.2,1151.6,'h'],[1161.3,1172.4,'h'],[1173.8,1178.6,'b'],[1193.2,1196,'b'],[1200.1,1202.2,'h'],[1212.6,1228.5,'h'],[1273.6,1279,'b'],[1366.8,1368.5,'b'],[1392.2,1407,'h'],[1452.9,1466.3,'m']];
var row22 = [[190.5,191,'o'],[203.3,203.7,'h'],[310.4,311.1,'h'],[316,316.7,'h'],[320.8,328.4,'b'],[330.5,331,'h'],[340.9,345.1,'h'],[352.7,353.2,'h'],[368.6,371.4,'h'],[378.3,382.5,'b'],[420.1,425.3,'h'],[430.8,435.7,'h'],[440.5,446,'h'],[453.7,457.8,'r'],[461.3,464.8,'h'],[470.3,471.7,'o'],[473.1,475.2,'h'],[481.4,482.8,'h'],[511.2,527.1,'h'],[532.7,538.2,'h'],[550.7,552.1,'h'],[561.8,562.3,'h'],[819.4,826,'r'],[826.8,831.4,'h'],[902.3,907.2,'b'],[910.6,914.8,'b'],[963.3,965.4,'h'],[973,975.1,'h'],[1010.4,1016,'h'],[1022.9,1023.5,'h'],[1049,1050.4,'h'],[1056.7,1057.4,'n'],[1068.5,1069.8,'b'],[1071.9,1073.7,'b'],[1101,1102.4,'n'],[1120.4,1125.3,'h'],[1150.2,1151.6,'b'],[1178,1178.5,'h'],[1193.9,1196,'b'],[1200.1,1202.2,'h'],[1248.6,1252.8,'b'],[1260.9,1261.4,'h'],[1274.3,1279,'n'],[1368.2,1368.8,'o'],[1395.7,1398.6,'o'],[1403.5,1404,'o'],[1453.6,1456.5,'n'],[1457.9,1462.8,'b'],[1465.6,1466.1,'h'],[1477.6,1478.2,'h']];
var row23 = [[190.5,190.9,'o'],[203.3,203.7,'h'],[310.4,311.1,'b'],[313.9,316.4,'b'],[320.8,325,'h'],[329.1,329.6,'h'],[341.6,343,'h'],[351.3,351.8,'h'],[368.6,370.7,'h'],[379.7,382.5,'b'],[421.1,421.8,'h'],[423.9,424.4,'h'],[453.7,455.1,'r'],[465.5,466,'h'],[470.3,474.5,'h'],[477,480,'h'],[511.5,518.1,'h'],[521.6,525,'r'],[532.7,536.8,'h'],[552.1,552.6,'h'],[561.8,562.3,'h'],[819.4,826,'m'],[826.1,831,'h'],[835.8,836.3,'h'],[844.1,844.6,'h'],[849.7,850.2,'h'],[902.3,906.5,'b'],[911.3,914.8,'b'],[973,975.1,'n'],[985.5,987.6,'h'],[995.2,999.4,'h'],[1068.5,1069.8,'b'],[1071.9,1073.3,'b'],[1101,1102.4,'b'],[1120.4,1122.5,'b'],[1150.2,1151.6,'b'],[1155.1,1155.8,'n'],[1193.9,1196,'h'],[1200.1,1202.2,'h'],[1248.6,1252.8,'b'],[1275.7,1279.3,'n'],[1366.8,1368.8,'r'],[1392.2,1407,'m'],[1453.6,1456.5,'b'],[1458.6,1462.8,'b'],[1478.3,1478.9,'h']];
var row24 = [[190.5,190.9,'h'],[203.3,203.7,'h'],[310,310.4,'b'],[315,316.1,'b'],[320.8,321.3,'h'],[329.8,330.2,'h'],[340.9,341.4,'h'],[351.3,351.8,'h'],[368,368.5,'h'],[379.7,382.5,'b'],[420.5,421.8,'h'],[453.7,454.2,'h'],[456.4,456.9,'h'],[462.7,465.5,'b'],[470.3,472.7,'b'],[477.9,478.4,'h'],[511.6,517.4,'m'],[520.9,525,'m'],[532.7,536.8,'b'],[552.1,552.6,'h'],[558.3,558.8,'h'],[561.8,562.3,'h'],[819.4,826,'b'],[826.1,831,'h'],[902.3,905.1,'b'],[911.3,914.8,'b'],[973,975.1,'h'],[996.6,998.7,'h'],[1018.1,1019.4,'h'],[1056.7,1057.2,'h'],[1068.7,1069.8,'h'],[1072.3,1073.3,'h'],[1101.4,1102,'n'],[1120.4,1122.8,'r'],[1150.2,1151.6,'h'],[1153.7,1155.8,'h'],[1194.6,1196,'n'],[1200.1,1202.2,'h'],[1248.6,1252.8,'n'],[1275.7,1279.3,'h'],[1366.8,1368.8,'h'],[1392.2,1407,'h'],[1453.6,1456.5,'h'],[1458.6,1462.8,'b']];
var callRows = [row0, row1, row2, row3, row4, row5, row6, row7, row8, row9, row10, row11, row12, row13, row14, row15, row16, row17, row18, row19, row20, row21, row22, row23, row24];

var panelColor = '#3c3f41';

// vertical stripes for the dense parts of the call chart
function stripes(list) {
    var c = document.createElement('canvas');
    var w = 0;
    for (var i = 0; i < list.length; i += 2) w += list[i + 1];
    c.width = w;
    c.height = 4;
    var g = c.getContext('2d');
    var x = 0;
    for (var j = 0; j < list.length; j += 2) {
        g.fillStyle = list[j];
        g.fillRect(x, 0, list[j + 1], 4);
        x += list[j + 1];
    }
    return g.createPattern(c, 'repeat');
}

var green = '#a5e9ac', blue = '#a7ddff', orange = '#fdc985';
var fills = {
    g: green,
    b: blue,
    o: orange,
    h: stripes([blue, 3, '#64809a', 1, '#8fbfdf', 2, blue, 3, '#64809a', 1, blue, 1, panelColor, 1, '#93c4e4', 3, '#7ea3bf', 2]),
    n: stripes([green, 3, '#5c7f68', 1, green, 2, panelColor, 1, '#8ccf9a', 2, '#6c8ea0', 1, green, 2, '#5c7f68', 2]),
    r: stripes([orange, 3, '#8f8068', 1, orange, 1, '#8fb4cc', 1, '#e2b67a', 2, '#6a6658', 1, orange, 2, '#8f8068', 1, orange, 2, blue, 1]),
    d: stripes(['#48525a', 2, '#7a9fbb', 1, panelColor, 1, '#56687a', 2, '#8a8c82', 1, panelColor, 2, '#6f8ea6', 1]),
    l: stripes([orange, 4, '#e6c08c', 1, orange, 2, '#d9bd98', 1, orange, 3, '#ecc288', 1, orange, 1, '#cfc0a6', 1]),
    m: stripes([blue, 4, orange, 2, '#8fbfdf', 2, blue, 2, '#7f8c8c', 1, orange, 3, blue, 3, '#a5c8c8', 1, blue, 2, orange, 1])
};

// bar data for chart.js
var callBars = [];
callRows.forEach(function(row, i) {
    row.forEach(function(b) {
        callBars.push({ x: [b[0], b[1]], y: i + 0.5, k: b[2], t: b[3] });
    });
});
var threadBars = threadRows.map(function(r, i) {
    return { x: [threadStarts[i], threadEnds[i]], y: r + 0.5 };
});
var mainBars = mainStarts.map(function(s, i) {
    return { x: [s, mainEnds[i]], y: 0.5 };
});

// names inside the call chart bars
var barLabels = {
    id: 'barLabels',
    afterDatasetsDraw: function(chart) {
        var ctx = chart.ctx, xs = chart.scales.x, ys = chart.scales.y;
        ctx.save();
        ctx.font = '19px "DejaVu Sans"';
        ctx.fillStyle = '#101010';
        ctx.textBaseline = 'middle';
        callBars.forEach(function(b) {
            if (b.t) ctx.fillText(b.t, xs.getPixelForValue(b.x[0]) + 6.5, ys.getPixelForValue(b.y) + 0.5);
        });
        ctx.restore();
    }
};

// longer tick under each labelled time
var longTicks = {
    id: 'longTicks',
    afterDraw: function(chart) {
        var ctx = chart.ctx, xs = chart.scales.x;
        ctx.save();
        ctx.strokeStyle = '#55585a';
        ctx.lineWidth = 2;
        majorTickValues.forEach(function(v) {
            var px = xs.getPixelForValue(v);
            ctx.beginPath();
            ctx.moveTo(px, xs.top);
            ctx.lineTo(px, xs.top + 22);
            ctx.stroke();
        });
        ctx.restore();
    }
};

function timeAxis(tickValues, height) {
    return {
        type: 'linear',
        bounds: 'data',
        min: -193.9,
        max: 2003.5,
        afterBuildTicks: function(s) {
            s.ticks = tickValues.map(function(v) { return { value: v }; });
        },
        afterFit: function(s) { s.paddingLeft = 0; s.paddingRight = 0; s.height = height; },
        border: { display: false },
        grid: {
            z: 1,
            lineWidth: 2,
            drawTicks: height > 0,
            tickLength: 12,
            tickWidth: 2,
            color: function(c) {
                return c.tick && majorTickValues.indexOf(c.tick.value) >= 0 ? 'rgba(255,255,255,0.11)' : 'transparent';
            },
            tickColor: '#4d5052'
        },
        ticks: {
            autoSkip: false,
            maxRotation: 0,
            display: height > 0,
            align: 'start',
            labelOffset: 6,
            padding: 0,
            color: '#a9a9a9',
            font: { family: 'DejaVu Sans', size: 19 },
            callback: function(v) { return timeTickLabels[majorTickValues.indexOf(v)] || ''; }
        }
    };
}

Chart.defaults.animation = false;

// capture overview
new Chart(document.getElementById('overviewChart'), {
    type: 'bar',
    data: {
        datasets: [
            { data: [{ x: selectionRange, y: 0.5 }], backgroundColor: '#2d5776', borderColor: '#2f6a96', borderWidth: { left: 2, right: 2 }, borderSkipped: false, barThickness: 278, grouped: false, inflateAmount: 0 },
            { data: [{ x: captureRange, y: 0.5 }], backgroundColor: '#323a41', barThickness: 278, grouped: false, inflateAmount: 0 }
        ]
    },
    options: {
        indexAxis: 'y',
        responsive: false,
        devicePixelRatio: 1,
        layout: { padding: { left: 8 } },
        plugins: { legend: { display: false }, tooltip: { enabled: false } },
        scales: {
            x: timeAxis(majorTickValues.slice(0, 4), 0),
            y: { type: 'linear', display: false, offset: false, min: 0, max: 1 }
        }
    }
});

// threads
new Chart(document.getElementById('threadChart'), {
    type: 'bar',
    data: {
        datasets: [
            { data: mainBars, backgroundColor: '#3e705e', barThickness: 26, grouped: false, inflateAmount: 0 },
            { data: threadBars, backgroundColor: '#3e705e', barThickness: 34, grouped: false, inflateAmount: 0 }
        ]
    },
    options: {
        indexAxis: 'y',
        responsive: false,
        devicePixelRatio: 1,
        layout: { padding: { left: 8 } },
        plugins: { legend: { display: false }, tooltip: { enabled: false } },
        scales: {
            x: timeAxis(minorTickValues, 58),
            y: {
                type: 'linear',
                reverse: true,
                offset: false,
                min: 0,
                max: 10.238,
                afterFit: function(s) { s.width = 0; s.paddingTop = 0; s.paddingBottom = 0; },
                afterBuildTicks: function(s) {
                    s.ticks = threadNames.map(function(n, i) { return { value: i + 0.5 }; });
                },
                border: { display: false },
                grid: { display: false, drawTicks: false },
                ticks: {
                    mirror: true,
                    padding: 40,
                    autoSkip: false,
                    color: function(c) { return c.index === 0 ? '#ffffff' : '#a5a5a5'; },
                    font: { family: 'DejaVu Sans', size: 20 },
                    callback: function(v, i) { return threadNames[i]; }
                }
            }
        }
    },
    plugins: [longTicks]
});

// call chart
new Chart(document.getElementById('callChart'), {
    type: 'bar',
    data: {
        datasets: [{
            data: callBars,
            backgroundColor: function(c) { return fills[c.raw.k]; },
            borderColor: panelColor,
            borderWidth: { left: 2, right: 0, top: 0, bottom: 0 },
            borderSkipped: false,
            barThickness: 26,
            grouped: false,
            inflateAmount: 0
        }]
    },
    options: {
        indexAxis: 'y',
        responsive: false,
        devicePixelRatio: 1,
        layout: { padding: { left: 8 } },
        plugins: { legend: { display: false }, tooltip: { enabled: false } },
        scales: {
            x: {
                type: 'linear',
                position: 'top',
                bounds: 'data',
                min: 0,
                max: 1482.3,
                afterBuildTicks: function(s) {
                    s.ticks = callTickValues.map(function(v) { return { value: v }; });
                },
                afterFit: function(s) { s.paddingLeft = 0; s.paddingRight = 0; s.height = 30; },
                border: { display: false },
                grid: { z: 1, lineWidth: 2, tickLength: 30, color: 'rgba(120,120,120,0.18)', tickColor: 'rgba(255,255,255,0.1)' },
                ticks: {
                    autoSkip: false,
                    maxRotation: 0,
                    align: 'start',
                    labelOffset: 6,
                    padding: -25,
                    color: '#a9a9a9',
                    font: { family: 'DejaVu Sans', size: 19 },
                    callback: function(v) { return callTickLabels[callTickValues.indexOf(v)]; }
                }
            },
            y: { type: 'linear', display: false, reverse: true, offset: false, min: 0, max: 24.63 }
        }
    },
    plugins: [barLabels]
});
</script>
</body>
</html>
